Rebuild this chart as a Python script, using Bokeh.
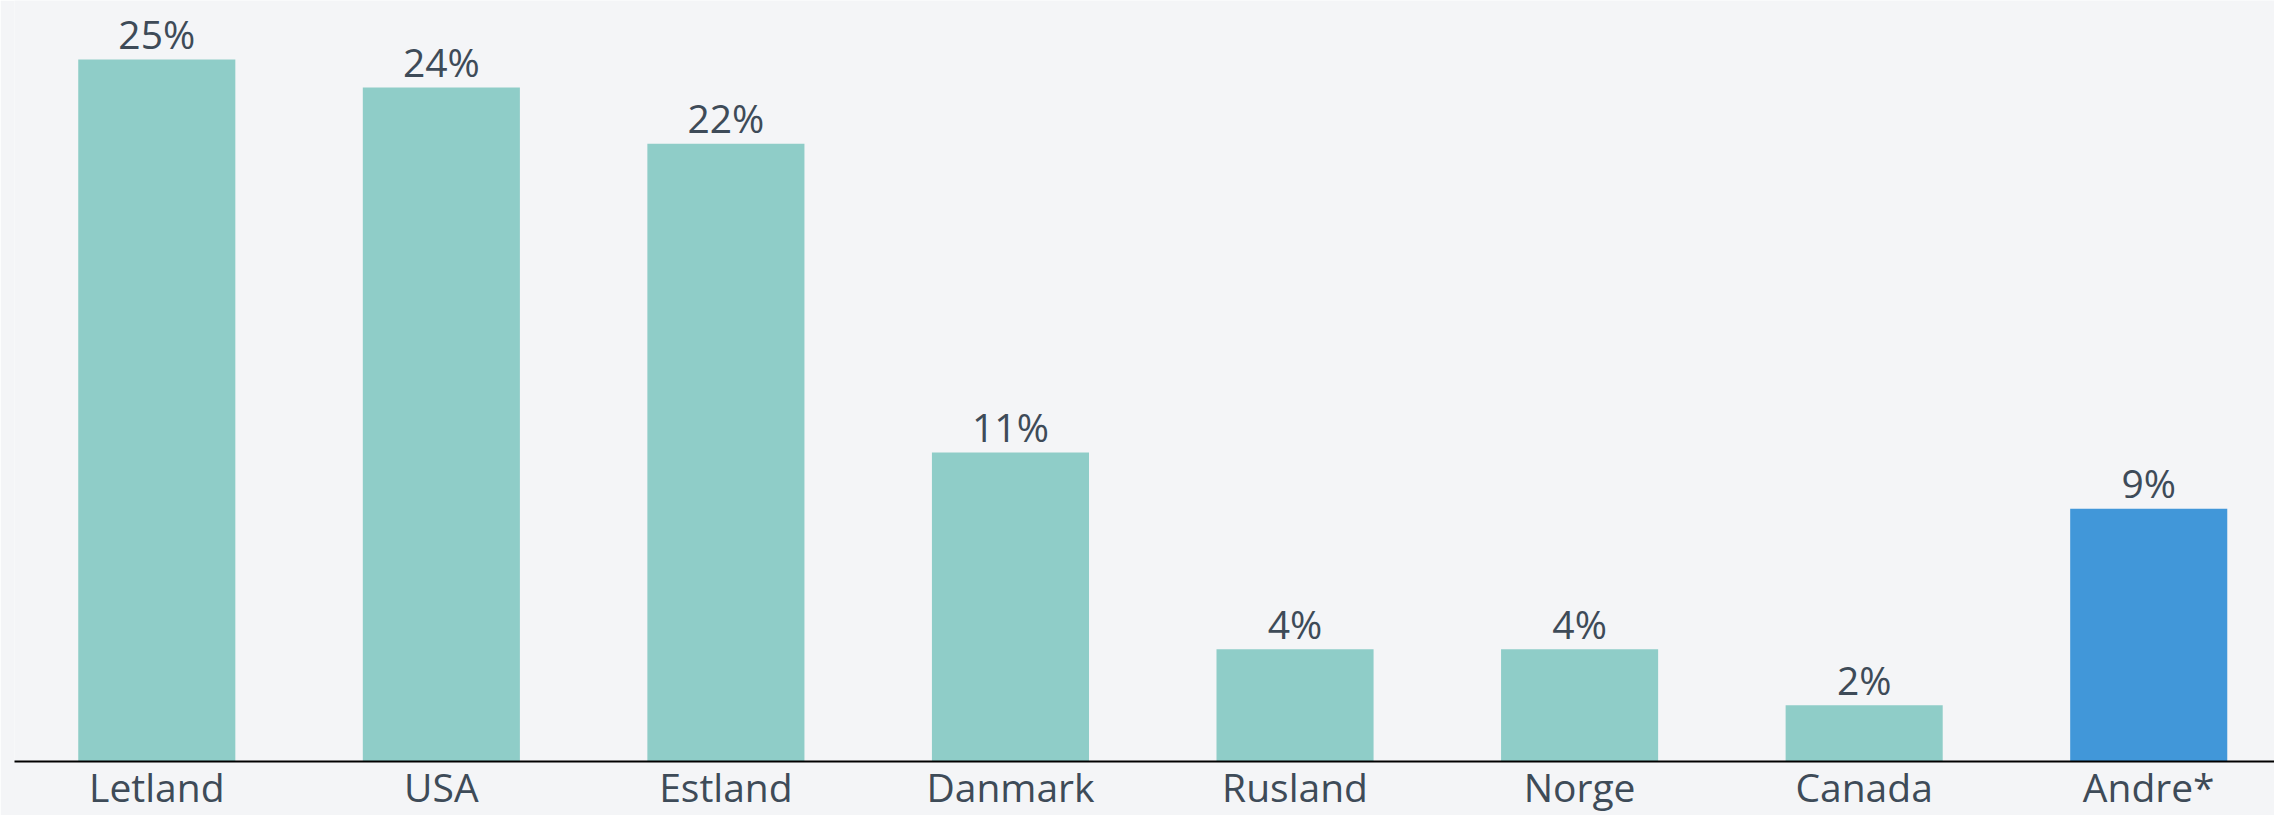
from bokeh.plotting import figure
from bokeh.models import Range1d, FixedTicker, ColumnDataSource
from bokeh.core.properties import value
from bokeh.embed import file_html
from bokeh.resources import INLINE

categories = ["Letland", "USA", "Estland", "Danmark", "Rusland", "Norge", "Canada", "Andre*"]
shares = [25, 24, 22, 11, 4, 4, 2, 9]
colors = ["#8FCDC8"] * 7 + ["#4197D9"]

idx = list(range(len(categories)))
labels = [f"{v}%" for v in shares]

src = ColumnDataSource(dict(x=idx, top=shares, color=colors, label=labels))

BG = "#F4F5F7"
TXT = "#3E4B58"
FONT = "Open Sans"

p = figure(width=2274, height=815, output_backend="svg", toolbar_location=None,
           x_range=Range1d(-0.5, 7.442), y_range=Range1d(0, 27.1),
           min_border_left=14, min_border_right=0, min_border_top=0, min_border_bottom=50)
p.background_fill_color = BG
p.border_fill_color = BG
p.outline_line_color = None
p.grid.visible = False
p.yaxis.visible = False

p.vbar(x="x", top="top", bottom=0, width=0.552, color="color", line_color=None, source=src)
p.text(x="x", y="top", text="label", source=src, text_align="center",
       text_baseline="alphabetic", y_offset=-26, text_font=value(FONT),
       text_font_size="39px", text_color=TXT)

ax = p.xaxis[0]
ax.ticker = FixedTicker(ticks=idx)
ax.major_label_overrides = {i: c for i, c in zip(idx, categories)}
ax.major_tick_line_color = None
ax.minor_tick_line_color = None
ax.major_tick_out = 0
ax.major_tick_in = 0
ax.major_label_standoff = -2
ax.axis_line_color = "#000000"
ax.axis_line_width = 2
ax.major_label_text_font = FONT
ax.major_label_text_font_size = "39px"
ax.major_label_text_color = TXT

open("out.html", "w").write(file_html(p, INLINE))
